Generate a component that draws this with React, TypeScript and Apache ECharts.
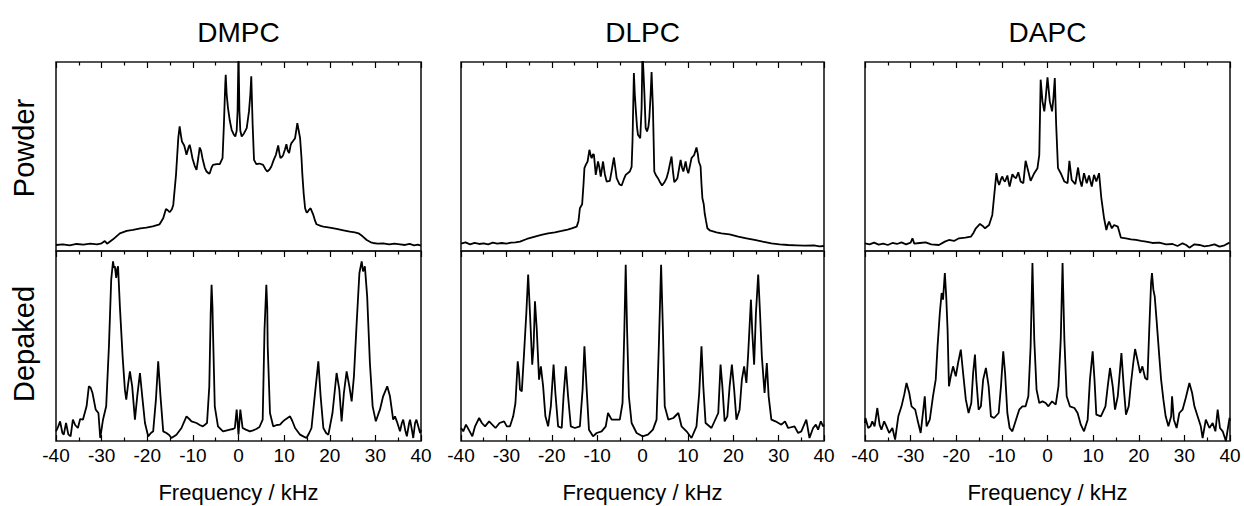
import React, { useEffect, useRef } from "react";
import * as echarts from "echarts";

// ---------------- data (frequency kHz, intensity a.u.) ----------------
const COLUMN_TITLES = ["DMPC", "DLPC", "DAPC"];
const ROW_LABELS = ["Powder", "Depaked"];
const X_AXIS_TITLE = "Frequency / kHz";
const FREQ_MIN = -40;
const FREQ_MAX = 40;
const FREQ_STEP = 10;
const POWDER_MAX = 566;
const DEPAKED_MAX = 570;

const DMPC_POWDER: [number, number][] = [
  [-40, 18], [-38.5, 20], [-37, 17], [-35.5, 21], [-34, 19], [-32.5, 22], [-31, 20], [-30, 23],
  [-29.3, 30], [-28.8, 22], [-27.5, 35], [-26, 53], [-24.5, 60], [-23.1, 63], [-21.5, 68],
  [-20.2, 70], [-18.8, 74], [-17.3, 80], [-16.5, 98], [-15.9, 126], [-15.5, 122], [-15.1, 116],
  [-14.6, 125], [-14.3, 138], [-13.7, 228], [-13.2, 338], [-12.9, 373], [-12.6, 345], [-12.4, 328],
  [-11.9, 316], [-11.6, 300], [-11.4, 288], [-10.9, 312], [-10.7, 318], [-10.4, 300], [-10.1, 278],
  [-9.6, 255], [-9.2, 243], [-8.8, 280], [-8.5, 310], [-8.2, 300], [-7.9, 278], [-7.4, 250],
  [-7.0, 238], [-6.5, 232], [-6.3, 233], [-5.9, 250], [-5.6, 258], [-4.8, 260], [-4.1, 260],
  [-3.5, 278], [-3.2, 378], [-2.9, 500], [-2.8, 528], [-2.6, 470], [-2.3, 428], [-1.9, 390],
  [-1.5, 363], [-1.0, 348], [-0.7, 343], [-0.4, 360], [-0.2, 420], [0, 600], [0.2, 420],
  [0.4, 360], [0.7, 343], [1.2, 352], [1.8, 368], [2.3, 418], [2.6, 470], [2.8, 523], [3.1, 378],
  [3.4, 273], [3.9, 260], [4.6, 262], [5.4, 258], [5.9, 245], [6.3, 238], [6.8, 244], [7.2, 253],
  [7.7, 272], [8.2, 288], [8.7, 316], [9.0, 290], [9.2, 278], [9.6, 283], [9.8, 288], [10.2, 305],
  [10.5, 320], [10.8, 300], [11.1, 293], [11.4, 315], [11.6, 323], [12.0, 330], [12.4, 338],
  [12.7, 365], [12.9, 383], [13.2, 360], [13.5, 338], [13.8, 280], [14.0, 228], [14.3, 170],
  [14.6, 128], [14.9, 116], [15.1, 116], [15.5, 124], [15.8, 128], [16.1, 118], [16.4, 108],
  [16.8, 90], [17.1, 80], [18.0, 75], [18.6, 73], [20.0, 70], [21.5, 66], [23.0, 62], [24.4, 58],
  [25.5, 56], [26.3, 53], [27.2, 44], [28.1, 33], [29.0, 26], [29.5, 24], [30.5, 22], [31.7, 23],
  [33.0, 20], [34.2, 22], [35.4, 20], [36.5, 18], [37.5, 21], [38.5, 17], [39.3, 19], [40, 16],
];

const DMPC_DEPAKED: [number, number][] = [
  [-40, 29], [-39.5, 44], [-39.1, 59], [-38.6, 24], [-38.3, 19], [-37.8, 54], [-37.3, 20],
  [-36.8, 14], [-36.3, 64], [-35.8, 48], [-35.2, 39], [-34.7, 66], [-34.1, 64], [-33.3, 104],
  [-32.8, 164], [-32.4, 160], [-32.0, 144], [-31.3, 94], [-30.7, 84], [-30.3, 9], [-29.7, 64],
  [-29.0, 104], [-28.4, 284], [-27.9, 484], [-27.5, 539], [-27.3, 520], [-27.1, 524], [-26.8, 489],
  [-26.6, 515], [-26.4, 524], [-26.0, 404], [-25.4, 254], [-24.9, 154], [-24.6, 124], [-24.2, 170],
  [-23.8, 209], [-23.3, 164], [-22.7, 64], [-22.2, 134], [-21.6, 204], [-21.1, 134], [-20.5, 54],
  [-19.8, 14], [-19.2, 24], [-18.7, 29], [-18.1, 124], [-17.6, 239], [-17.1, 134], [-16.5, 29],
  [-15.8, 24], [-15.2, 18], [-14.7, 9], [-13.6, 19], [-12.5, 39], [-11.4, 74], [-10.8, 66],
  [-10.3, 59], [-9.2, 54], [-8.5, 48], [-7.8, 44], [-6.9, 54], [-6.4, 164], [-6.1, 380],
  [-5.9, 469], [-5.7, 400], [-5.6, 334], [-5.2, 104], [-4.5, 44], [-3.4, 29], [-2.5, 32],
  [-1.9, 34], [-1.2, 36], [-0.8, 39], [-0.4, 94], [0, 19], [0.4, 94], [0.9, 39], [1.6, 34],
  [2.5, 29], [3.2, 32], [3.9, 36], [4.6, 42], [5.3, 64], [5.7, 334], [6.1, 469], [6.3, 400],
  [6.4, 284], [6.9, 84], [7.6, 44], [8.4, 48], [9.1, 49], [9.7, 58], [10.2, 64], [11.3, 74],
  [11.8, 60], [12.4, 39], [13.5, 19], [14.2, 14], [14.9, 9], [15.5, 24], [16.0, 39], [16.7, 134],
  [17.5, 239], [18.0, 134], [18.6, 39], [19.2, 24], [19.7, 19], [20.6, 84], [21.5, 204],
  [22.1, 154], [22.6, 59], [23.1, 144], [23.7, 209], [24.3, 164], [24.8, 119], [25.3, 194],
  [25.9, 354], [26.5, 504], [27.0, 539], [27.3, 509], [27.5, 514], [27.7, 524], [28.2, 434],
  [28.8, 234], [29.4, 104], [30.1, 59], [30.6, 79], [31.0, 94], [31.7, 134], [32.6, 164],
  [33.2, 134], [33.9, 64], [34.3, 74], [34.7, 59], [35.4, 29], [35.8, 54], [36.1, 64], [36.6, 29],
  [36.9, 14], [37.4, 54], [37.6, 64], [38.0, 34], [38.3, 9], [38.7, 54], [39.0, 64], [39.4, 44],
  [39.8, 24], [40, 34],
];

const DLPC_POWDER: [number, number][] = [
  [-40, 22], [-39, 26], [-38, 20], [-37, 24], [-36, 21], [-35, 23], [-34, 20], [-33, 25],
  [-32, 22], [-31, 24], [-30, 22], [-29, 25], [-28, 26], [-27, 28], [-25.5, 36], [-23.7, 43],
  [-22.3, 48], [-20.8, 53], [-19.3, 56], [-17.8, 60], [-16.5, 64], [-15.6, 68], [-14.5, 73],
  [-14.1, 90], [-13.8, 128], [-13.3, 140], [-13.0, 200], [-12.8, 248], [-12.5, 258], [-12.1, 268],
  [-11.7, 303], [-11.4, 285], [-11.2, 278], [-10.9, 290], [-10.7, 288], [-10.3, 228], [-9.8, 268],
  [-9.5, 250], [-9.2, 223], [-8.7, 268], [-8.3, 230], [-7.9, 208], [-7.2, 210], [-6.8, 240],
  [-6.3, 280], [-6.0, 250], [-5.7, 218], [-5.1, 200], [-4.6, 196], [-4.1, 215], [-3.7, 228],
  [-2.8, 238], [-2.4, 252], [-2.2, 330], [-1.9, 533], [-1.7, 470], [-1.5, 428], [-1.2, 370],
  [-1.0, 348], [-0.7, 342], [-0.5, 338], [-0.2, 428], [0, 600], [0.4, 478], [0.7, 368],
  [1.0, 358], [1.3, 372], [1.5, 398], [1.8, 470], [2.0, 536], [2.3, 428], [2.6, 238], [3.0, 226],
  [3.4, 218], [3.9, 205], [4.3, 196], [4.8, 205], [5.3, 218], [5.7, 238], [6.0, 258], [6.4, 283],
  [6.7, 240], [7.0, 206], [7.4, 212], [7.7, 218], [8.1, 250], [8.4, 273], [8.7, 250], [9.0, 238],
  [9.3, 255], [9.5, 268], [9.8, 245], [10.1, 233], [10.5, 258], [10.8, 278], [11.1, 283],
  [11.4, 288], [11.9, 310], [12.2, 290], [12.4, 268], [12.8, 253], [13.0, 200], [13.2, 158],
  [13.5, 140], [13.7, 113], [14.0, 90], [14.3, 68], [14.8, 62], [15.2, 60], [16.3, 56], [17.4, 53],
  [19.2, 50], [21.1, 43], [22.9, 38], [24.7, 33], [26.5, 28], [28.4, 23], [30.2, 20], [32.1, 18],
  [33.9, 17], [35.7, 16], [37.8, 17], [39.0, 14], [40, 15],
];

const DLPC_DEPAKED: [number, number][] = [
  [-40, 39], [-39.5, 29], [-38.9, 49], [-38.3, 34], [-37.5, 14], [-36.9, 44], [-36.0, 69],
  [-35.4, 54], [-34.7, 44], [-33.8, 59], [-32.4, 39], [-31.5, 54], [-30.5, 59], [-29.9, 44],
  [-29.2, 44], [-28.5, 74], [-28.0, 114], [-27.5, 239], [-27.2, 200], [-27.0, 154], [-26.6, 149],
  [-26.1, 264], [-25.6, 384], [-25.2, 499], [-24.8, 384], [-24.3, 229], [-24.0, 284], [-23.7, 419],
  [-23.3, 334], [-22.8, 184], [-22.4, 224], [-21.9, 164], [-21.4, 74], [-20.8, 44], [-20.2, 104],
  [-19.6, 229], [-19.2, 144], [-18.6, 44], [-17.8, 39], [-17.4, 134], [-16.9, 224], [-16.4, 134],
  [-15.8, 44], [-14.9, 39], [-13.8, 44], [-13.2, 154], [-12.8, 284], [-12.3, 154], [-11.8, 34],
  [-10.9, 14], [-10.1, 24], [-9.0, 29], [-8.1, 44], [-7.6, 84], [-6.8, 64], [-5.7, 64], [-5.0, 64],
  [-4.4, 114], [-4.0, 334], [-3.7, 529], [-3.4, 334], [-3.0, 134], [-2.4, 54], [-1.3, 24], [0, 14],
  [1.2, 19], [2.3, 34], [3.1, 64], [3.6, 284], [4.1, 529], [4.5, 334], [4.9, 104], [5.7, 64],
  [6.8, 69], [7.9, 84], [8.6, 44], [9.7, 29], [10.8, 9], [11.9, 44], [12.5, 144], [13.0, 284],
  [13.4, 164], [13.9, 54], [15.2, 39], [16.7, 84], [17.2, 229], [17.6, 164], [18.1, 59], [18.7, 74],
  [19.2, 164], [19.7, 229], [20.2, 154], [20.7, 64], [21.4, 94], [21.9, 184], [22.4, 224],
  [22.9, 174], [23.3, 264], [23.9, 424], [24.2, 324], [24.6, 229], [25.0, 384], [25.5, 499],
  [25.9, 384], [26.3, 254], [26.9, 144], [27.4, 234], [27.8, 134], [28.4, 64], [29.3, 59],
  [30.6, 49], [31.4, 59], [32.1, 39], [33.5, 44], [34.3, 24], [35.0, 29], [36.1, 64], [36.8, 9],
  [37.6, 39], [38.2, 49], [38.7, 34], [39.3, 59], [39.8, 44], [40, 49],
];

const DAPC_POWDER: [number, number][] = [
  [-40, 23], [-39, 20], [-38, 25], [-37, 19], [-36, 22], [-35, 18], [-34, 24], [-33, 21],
  [-32, 26], [-31, 20], [-30, 25], [-29.6, 38], [-29.2, 22], [-28, 24], [-26.7, 26], [-25.5, 20],
  [-23.8, 18], [-22.5, 28], [-21.6, 33], [-20.5, 30], [-19.4, 38], [-18.0, 40], [-16.8, 43],
  [-16.2, 55], [-15.7, 68], [-14.8, 81], [-14.2, 75], [-13.7, 68], [-12.8, 78], [-12.1, 108],
  [-11.6, 178], [-11.2, 233], [-10.9, 210], [-10.6, 198], [-10.2, 215], [-9.9, 223], [-9.6, 212],
  [-9.3, 208], [-8.8, 226], [-8.5, 205], [-8.3, 193], [-7.7, 230], [-7.3, 222], [-6.9, 218],
  [-6.4, 236], [-5.9, 208], [-5.3, 203], [-4.8, 270], [-4.2, 238], [-3.7, 210], [-2.9, 233],
  [-2.2, 248], [-1.8, 288], [-1.5, 513], [-1.1, 448], [-0.7, 418], [-0.4, 458], [0, 520],
  [0.5, 448], [1.0, 418], [1.3, 458], [1.6, 518], [1.9, 378], [2.3, 248], [2.9, 233], [3.7, 208],
  [4.4, 203], [4.8, 270], [5.3, 213], [6.1, 200], [6.7, 250], [7.1, 213], [7.5, 193], [8.0, 233],
  [8.6, 203], [9.1, 226], [9.7, 193], [10.2, 228], [10.7, 208], [11.3, 233], [11.8, 158],
  [12.4, 98], [12.9, 63], [13.2, 78], [13.5, 88], [14.1, 68], [14.6, 78], [15.4, 73], [16.1, 40],
  [17.2, 38], [18.3, 35], [19.4, 33], [20.5, 30], [21.6, 28], [23.0, 24], [24.5, 25], [26.0, 20],
  [27.4, 21], [28.5, 15], [29.6, 23], [30.4, 18], [31.1, 10], [32.2, 20], [33.3, 18], [34.4, 14],
  [35.5, 16], [36.6, 20], [37.7, 13], [38.8, 17], [39.9, 25], [40, 24],
];

const DAPC_DEPAKED: [number, number][] = [
  [-40, 54], [-39.9, 69], [-39.3, 39], [-38.8, 44], [-38.4, 59], [-37.9, 44], [-37.3, 99],
  [-36.8, 49], [-36.4, 34], [-35.8, 59], [-35.3, 44], [-34.7, 24], [-34.0, 39], [-33.4, 4],
  [-32.7, 74], [-32.0, 104], [-31.4, 139], [-30.9, 174], [-30.3, 144], [-29.8, 104], [-29.0, 94],
  [-28.5, 64], [-27.8, 24], [-27.3, 84], [-26.9, 134], [-26.5, 44], [-25.8, 64], [-25.1, 134],
  [-24.5, 184], [-24.1, 284], [-23.6, 384], [-23.2, 444], [-22.9, 424], [-22.5, 504], [-22.2, 434],
  [-21.9, 334], [-21.6, 164], [-21.2, 194], [-20.7, 224], [-20.1, 194], [-19.6, 234], [-19.0, 274],
  [-18.5, 204], [-17.9, 124], [-17.3, 84], [-16.7, 114], [-16.3, 204], [-15.9, 259], [-15.6, 184],
  [-15.1, 94], [-14.6, 104], [-14.1, 184], [-13.5, 219], [-12.9, 164], [-12.4, 74], [-11.7, 69],
  [-10.7, 84], [-10.2, 164], [-9.7, 269], [-9.3, 204], [-8.8, 84], [-8.3, 39], [-7.7, 29],
  [-6.9, 64], [-6.2, 94], [-5.5, 104], [-4.8, 104], [-4.2, 134], [-3.7, 284], [-3.3, 534],
  [-2.9, 304], [-2.4, 154], [-1.8, 114], [-1.1, 119], [-0.4, 114], [0.2, 104], [1.0, 119],
  [1.8, 109], [2.4, 164], [2.9, 304], [3.3, 534], [3.7, 304], [4.2, 134], [4.9, 104], [5.9, 99],
  [6.6, 84], [7.3, 49], [8.0, 29], [8.8, 64], [9.3, 184], [9.9, 269], [10.3, 184], [10.7, 79],
  [11.7, 74], [12.7, 104], [13.2, 164], [13.7, 219], [14.3, 164], [14.8, 94], [15.4, 134],
  [15.9, 214], [16.2, 264], [16.7, 164], [17.2, 79], [17.8, 104], [18.3, 174], [18.8, 234],
  [19.2, 276], [19.7, 244], [20.3, 204], [20.8, 224], [21.4, 189], [21.9, 184], [22.3, 334],
  [22.7, 474], [22.9, 504], [23.2, 454], [23.5, 434], [23.9, 364], [24.5, 254], [24.9, 184],
  [25.4, 124], [25.9, 74], [26.5, 44], [27.1, 74], [27.3, 134], [27.7, 64], [28.3, 39], [28.9, 84],
  [29.6, 94], [30.3, 129], [31.1, 174], [31.7, 144], [32.2, 104], [32.9, 74], [33.6, 44], [34.0, 9],
  [34.7, 64], [35.5, 39], [36.2, 54], [36.8, 29], [37.3, 94], [37.8, 39], [38.4, 29], [39.1, 0],
  [39.9, 69], [40, 60],
];

const POWDER_SPECTRA = [DMPC_POWDER, DLPC_POWDER, DAPC_POWDER];
const DEPAKED_SPECTRA = [DMPC_DEPAKED, DLPC_DEPAKED, DAPC_DEPAKED];

// ---------------- layout ----------------
const FONT = "'Liberation Sans', Arial, Helvetica, sans-serif";
const COL_LEFT = [56, 461, 865];
const COL_WIDTH = [365, 363, 365];
const ROW_TOP = [62, 251];
const ROW_HEIGHT = [189, 190];

export default function App() {
  const ref = useRef<HTMLDivElement>(null);

  useEffect(() => {
    if (!ref.current) return;
    const chart = echarts.init(ref.current, null, { renderer: "svg" });

    const grids: any[] = [];
    const xAxes: any[] = [];
    const yAxes: any[] = [];
    const series: any[] = [];

    const tickCommon = {
      type: "value",
      min: FREQ_MIN,
      max: FREQ_MAX,
      interval: FREQ_STEP,
      splitLine: { show: false },
      minorSplitLine: { show: false },
      axisLine: { show: false },
    };

    for (let r = 0; r < 2; r++) {
      for (let c = 0; c < 3; c++) {
        const gi = grids.length;
        grids.push({
          left: COL_LEFT[c],
          top: ROW_TOP[r],
          width: COL_WIDTH[c],
          height: ROW_HEIGHT[r],
          show: true,
          borderColor: "#1a1a1a",
          borderWidth: 1.6,
          backgroundColor: "transparent",
          containLabel: false,
          outerBoundsMode: "none",
        });
        const isBottom = r === 1;
        xAxes.push({
          ...tickCommon,
          gridIndex: gi,
          position: "bottom",
          axisTick: { show: isBottom, inside: true, length: 6, lineStyle: { color: "#000", width: 1.2 } },
          minorTick: { show: isBottom, splitNumber: 2, length: 3.5, lineStyle: { color: "#000", width: 1.2 } },
          axisLabel: {
            show: isBottom,
            margin: 5,
            fontSize: 19,
            color: "#000",
            fontFamily: FONT,
            showMinLabel: true,
            showMaxLabel: true,
          },
          name: isBottom ? X_AXIS_TITLE : "",
          nameLocation: "middle",
          nameGap: 40,
          nameTextStyle: { fontSize: 22, color: "#000", fontFamily: FONT },
        });
        const bottomIndex = xAxes.length - 1;
        xAxes.push({
          ...tickCommon,
          gridIndex: gi,
          position: "top",
          axisTick: { show: true, inside: true, length: 6, lineStyle: { color: "#000", width: 1.2 } },
          minorTick: { show: true, splitNumber: 2, length: 3.5, lineStyle: { color: "#000", width: 1.2 } },
          axisLabel: { show: false },
        });
        yAxes.push({
          type: "value",
          gridIndex: gi,
          min: 0,
          max: isBottom ? DEPAKED_MAX : POWDER_MAX,
          show: false,
        });
        const data = isBottom ? DEPAKED_SPECTRA[c] : POWDER_SPECTRA[c];
        series.push({
          type: "line",
          name: `${COLUMN_TITLES[c]} ${ROW_LABELS[r]}`,
          xAxisIndex: bottomIndex,
          yAxisIndex: gi,
          data,
          showSymbol: false,
          symbol: "none",
          clip: true,
          lineStyle: { color: "#000", width: 1.8 },
          emphasis: { disabled: true },
        });
      }
    }

    const graphics: any[] = [];
    COLUMN_TITLES.forEach((t, c) => {
      graphics.push({
        type: "text",
        x: COL_LEFT[c] + COL_WIDTH[c] / 2,
        y: 32,
        style: {
          text: t,
          font: `28px ${FONT}`,
          fill: "#000",
          align: "center",
          verticalAlign: "middle",
          textAlign: "center",
          textVerticalAlign: "middle",
        },
      });
    });
    const rowCenters = [148, 344];
    ROW_LABELS.forEach((t, r) => {
      graphics.push({
        type: "text",
        x: 24,
        y: rowCenters[r],
        rotation: Math.PI / 2,
        style: {
          text: t,
          font: `29px ${FONT}`,
          fill: "#000",
          align: "center",
          verticalAlign: "middle",
          textAlign: "center",
          textVerticalAlign: "middle",
        },
      });
    });

    chart.setOption({
      animation: false,
      backgroundColor: "#ffffff",
      textStyle: { fontFamily: FONT },
      grid: grids,
      xAxis: xAxes,
      yAxis: yAxes,
      series,
      graphic: graphics,
    });

    return () => chart.dispose();
  }, []);

  return (
    <div
      ref={ref}
      style={{ position: "fixed", left: 0, top: 0, width: 1244, height: 506, background: "#fff" }}
    />
  );
}
